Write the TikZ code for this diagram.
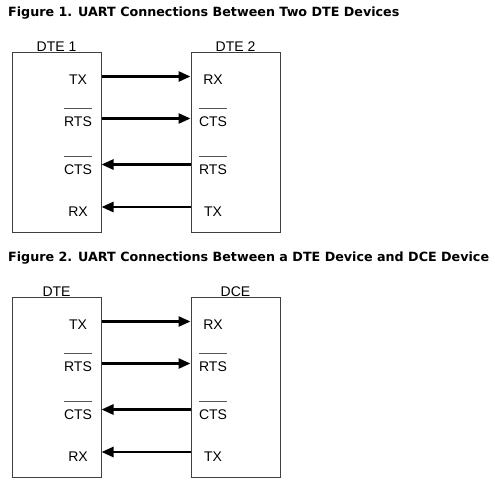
\documentclass[tikz,border=0pt]{standalone}
\usepackage{fontspec}
\setmainfont{Liberation Sans}
\newfontfamily\titlefont{DejaVu Sans}
\usetikzlibrary{arrows.meta}
\definecolor{boxgray}{HTML}{404040}
\definecolor{ovlgray}{HTML}{555555}
\tikzset{
  devbox/.style={draw=boxgray, line width=1pt, minimum width=89pt, minimum height=180pt, inner sep=0pt},
  devname/.style={font=\fontsize{14pt}{14pt}\selectfont, anchor=south, inner sep=0pt},
  sig/.style={font=\fontsize{14pt}{14pt}\selectfont, inner sep=0pt},
  ovl/.style={draw=ovlgray, line width=1pt},
  wire/.style={line width=2.6pt, -{Triangle[length=12pt,width=10pt]}},
  figtitle/.style={font=\titlefont\bfseries\fontsize{12.7pt}{13pt}\selectfont, anchor=west, inner sep=0pt}
}
\begin{document}
\begin{tikzpicture}[x=1pt,y=-1pt]
\useasboundingbox[fill=white] (0,0) rectangle (495,488);
% Figure 1
\node[figtitle] (t1) at (8,13.5) {Figure 1. UART Connections Between Two DTE Devices};
\node[devbox] (a1) at (56.5,142.5) {};
\node[devbox] (b1) at (235.5,142.5) {};
\node[devname] (na1) at (a1.north) {DTE 1};
\node[devname] (nb1) at (b1.north) {DTE 2};
\node[sig] (a1tx) at (78,80) {TX};
\node[sig] (a1rts) at (78,122) {RTS};
\node[sig] (a1cts) at (78,170) {CTS};
\node[sig] (a1rx) at (78,212) {RX};
\node[sig] (b1rx) at (213,80) {RX};
\node[sig] (b1cts) at (213,122) {CTS};
\node[sig] (b1rts) at (213,170) {RTS};
\node[sig] (b1tx) at (213,212) {TX};
\foreach \n in {a1rts,a1cts,b1cts,b1rts}
  \draw[ovl] ([yshift=8.5pt]\n.north west) -- ([yshift=8.5pt]\n.north east);
\coordinate (r1a) at (0,76.5);
\coordinate (r1b) at (0,118.5);
\coordinate (r1c) at (0,164.5);
\coordinate (r1d) at (0,207);
\draw[wire] (a1.east |- r1a) -- (b1.west |- r1a);
\draw[wire] (a1.east |- r1b) -- (b1.west |- r1b);
\draw[wire] (b1.west |- r1c) -- (a1.east |- r1c);
\draw[wire] (b1.west |- r1d) -- (a1.east |- r1d);
% Figure 2
\node[figtitle] (t2) at (8,258.5) {Figure 2. UART Connections Between a DTE Device and DCE Device};
\node[devbox] (a2) at (56.5,387) {};
\node[devbox] (b2) at (235.5,387) {};
\node[devname] (na2) at (a2.north) {DTE};
\node[devname] (nb2) at (b2.north) {DCE};
\node[sig] (a2tx) at (78,325) {TX};
\node[sig] (a2rts) at (78,367) {RTS};
\node[sig] (a2cts) at (78,415) {CTS};
\node[sig] (a2rx) at (78,457) {RX};
\node[sig] (b2rx) at (213,325) {RX};
\node[sig] (b2rts) at (213,367) {RTS};
\node[sig] (b2cts) at (213,415) {CTS};
\node[sig] (b2tx) at (213,457) {TX};
\foreach \n in {a2rts,a2cts,b2rts,b2cts}
  \draw[ovl] ([yshift=8.5pt]\n.north west) -- ([yshift=8.5pt]\n.north east);
\coordinate (r2a) at (0,321.5);
\coordinate (r2b) at (0,363.5);
\coordinate (r2c) at (0,409.5);
\coordinate (r2d) at (0,452);
\draw[wire] (a2.east |- r2a) -- (b2.west |- r2a);
\draw[wire] (a2.east |- r2b) -- (b2.west |- r2b);
\draw[wire] (b2.west |- r2c) -- (a2.east |- r2c);
\draw[wire] (b2.west |- r2d) -- (a2.east |- r2d);
\end{tikzpicture}
\end{document}
